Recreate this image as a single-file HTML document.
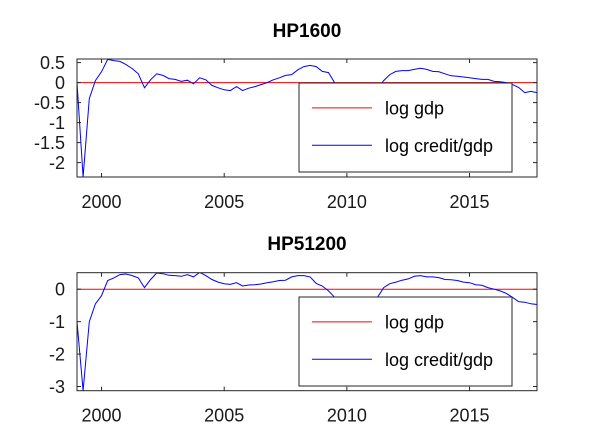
<!DOCTYPE html>
<html><head><meta charset="utf-8"><style>
body{margin:0;background:#fff}
svg{display:block;font-family:"Liberation Sans",sans-serif}
</style></head><body>
<svg id="c" width="593" height="438"></svg>
<script>
const startYear = 1999;
const hp1600 = [0,-2.36,-0.4,0.05, 0.27,0.58,0.55,0.53, 0.45,0.35,0.22,-0.13, 0.07,0.22,0.18,0.1, 0.08,0.03,0.06,-0.03,
 0.12,0.07,-0.07,-0.13, -0.18,-0.2,-0.1,-0.2, -0.14,-0.1,-0.05,0.0, 0.07,0.12,0.18,0.2, 0.32,0.4,0.43,0.4,
 0.28,0.25,0.0,-0.3, -0.4,-0.45,-0.45,-0.4, -0.3,-0.15,0.05,0.2, 0.28,0.3,0.3,0.33, 0.36,0.33,0.28,0.27,
 0.22,0.17,0.16,0.14, 0.12,0.1,0.08,0.08, 0.03,0.02,0.0,-0.05, -0.12,-0.25,-0.22,-0.25];
const hp51200 = [-1.0,-3.13,-1.0,-0.45, -0.2,0.27,0.35,0.45, 0.47,0.42,0.35,0.05, 0.3,0.5,0.48,0.43, 0.42,0.4,0.45,0.38,
 0.52,0.42,0.3,0.22, 0.17,0.15,0.2,0.1, 0.13,0.14,0.16,0.2, 0.23,0.27,0.28,0.38, 0.42,0.42,0.38,0.18,
 0.1,-0.05,-0.25,-0.4, -0.5,-0.55,-0.55,-0.5, -0.4,-0.25,0.05,0.17, 0.22,0.28,0.32,0.4, 0.42,0.38,0.38,0.36,
 0.3,0.29,0.27,0.22, 0.2,0.14,0.12,0.05, 0.0,-0.05,-0.13,-0.25, -0.38,-0.4,-0.45,-0.47];
const xTicks = [2000,2005,2010,2015];
const yTicksTop = [0.5,0,-0.5,-1,-1.5,-2];
const yTickLabelsTop = ["0.5","0","-0.5","-1","-1.5","-2"];
const yTicksBot = [0,-1,-2,-3];
const yTickLabelsBot = ["0","-1","-2","-3"];
const legendLabels = ["log gdp","log credit/gdp"];

const svg = document.getElementById('c');
const NS = 'http://www.w3.org/2000/svg';
function mk(tag, attrs, parent){const e=document.createElementNS(NS,tag);for(const k in attrs)e.setAttribute(k,attrs[k]);(parent||svg).appendChild(e);return e;}

function panel(id, title, series, top, bottom, ymin, ymax, yt, ytl, titleY, legTop, legBot){
  const L=77,R=537,x0=1999,x1=2017.75;
  const sx=v=>L+(v-x0)/(x1-x0)*(R-L);
  const sy=v=>bottom-(v-ymin)/(ymax-ymin)*(bottom-top);
  const g=mk('g',{});
  
  
  const t=mk('text',{x:307,y:titleY,'text-anchor':'middle','font-size':19,'font-weight':'bold'},g);
  t.textContent=title;
  
  
  const cp=mk('clipPath',{id:'cp'+id},g);
  mk('rect',{x:L,y:top,width:R-L,height:bottom-top},cp);
  const z=mk('line',{x1:L,x2:R,y1:sy(0),y2:sy(0),stroke:'#ff0000','stroke-width':1},g);
  
  
  const pts=series.map((v,i)=>sx(startYear+i*0.25).toFixed(1)+','+sy(v).toFixed(1)).join(' ');
  const pl=mk('polyline',{points:pts,fill:'none',stroke:'#0000ff','stroke-width':1,'clip-path':'url(#cp'+id+')'},g);
  
  
  const box=mk('rect',{x:L,y:top,width:R-L,height:bottom-top,fill:'none',stroke:'#262626','stroke-width':1},g);
  
  
  xTicks.forEach(v=>{
    const x=sx(v);
    mk('line',{x1:x,x2:x,y1:bottom,y2:bottom-4,stroke:'#262626'},g);
    mk('line',{x1:x,x2:x,y1:top,y2:top+4,stroke:'#262626'},g);
    const tx=mk('text',{x:x,y:bottom+31,'text-anchor':'middle','font-size':18,fill:'#1a1a1a'},g);
    tx.textContent=v;
    
    
  });
  yt.forEach((v,i)=>{
    const y=sy(v);
    mk('line',{x1:L,x2:L+4,y1:y,y2:y,stroke:'#262626'},g);
    mk('line',{x1:R,x2:R-4,y1:y,y2:y,stroke:'#262626'},g);
    const ty=mk('text',{x:L-12,y:y+6.5,'text-anchor':'end','font-size':18,fill:'#1a1a1a'},g);
    ty.textContent=ytl[i];
    
    
  });
  const lg=mk('g',{},g);
  
  
  mk('rect',{x:299,y:legTop,width:213,height:legBot-legTop,fill:'#fff',stroke:'#262626','stroke-width':1},lg);
  const cols=['#ff0000','#0000ff'];
  legendLabels.forEach((lab,i)=>{
    const y=legTop+(legBot-legTop)*(i===0?0.28:0.7);
    mk('line',{x1:312,x2:372,y1:y,y2:y,stroke:cols[i]},lg);
    const tl=mk('text',{x:385,y:y+6.5,'font-size':18,fill:'#000'},lg);
    tl.textContent=lab;
    
    
  });
}
panel('hp1600','HP1600',hp1600,59,177,-2.36,0.59,yTicksTop,yTickLabelsTop,37,83,172);
panel('hp51200','HP51200',hp51200,272.7,390.7,-3.13,0.51,yTicksBot,yTickLabelsBot,250,297,386);
</script>
</body></html>
